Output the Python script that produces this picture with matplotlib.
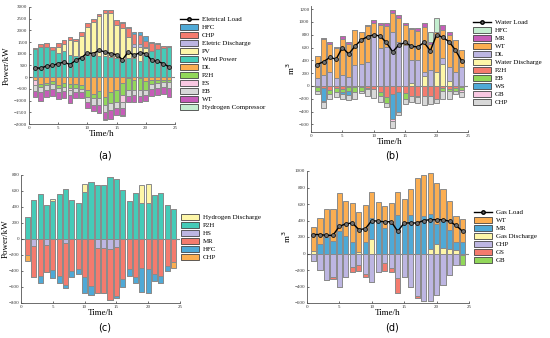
import matplotlib
matplotlib.use("Agg")
import matplotlib.pyplot as plt
from matplotlib.patches import Patch
from matplotlib.lines import Line2D
import numpy as np

hours = list(range(1, 25))

# ---------------- Panel (a) electrical ----------------
a_wind = [1200, 1280, 1300, 1150, 1050, 1100, 950, 900, 900, 950, 950, 900, 900, 850, 800, 750, 800, 800, 700, 950, 1100, 1200, 1250, 1300]
a_pv = [0, 0, 0, 0, 250, 300, 650, 650, 850, 1200, 1400, 1700, 1850, 1900, 1450, 1350, 900, 500, 600, 300, 0, 0, 0, 0]
a_edis = [0, 0, 0, 0, 0, 0, 0, 0, 0, 0, 0, 0, 0, 0, 0, 0, 0, 100, 100, 50, 0, 0, 0, 0]
a_chp = [50, 150, 180, 130, 180, 200, 100, 100, 200, 150, 150, 120, 130, 130, 200, 200, 400, 450, 400, 250, 350, 230, 100, 20]
a_hfc = [0, 0, 0, 0, 0, 0, 0, 0, 0, 0, 0, 0, 0, 0, 0, 50, 50, 100, 150, 200, 50, 20, 0, 0]
a_dl = [-100, -300, -250, -150, -350, -250, -300, -300, -350, -550, -700, -600, -850, -650, -550, -250, -50, -100, -50, -150, -100, -100, -100, -100]
a_p2h = [0, -100, -100, -150, -100, -150, -150, -150, -150, -300, -200, -300, -350, -450, -500, -500, -500, -450, -500, -400, -200, -150, -100, -100]
a_es = [-250, 0, 0, 0, 0, 0, -100, 0, 0, 0, 0, 0, 0, 0, 0, -300, 0, 0, 0, 0, 0, 0, 0, 0]
a_eb = [-250, -250, -200, -200, -200, -200, -200, -200, -150, -200, -300, -300, -300, -300, -250, -250, -250, -200, -250, -200, -200, -200, -200, -250]
a_wt = [-250, -350, -300, -300, -300, -300, -350, -250, -250, -250, -250, -350, -300, -400, -300, -300, -250, -300, -250, -250, -300, -300, -300, -400]
a_hcomp = [0, 0, 0, 0, 0, 0, 0, 0, 0, 0, 0, 0, -50, 0, 0, -50, 0, 0, 0, 0, 0, 0, 0, 0]
a_load = [410, 380, 480, 500, 580, 650, 540, 720, 840, 1040, 1010, 1150, 1080, 1010, 965, 750, 1080, 940, 1050, 1010, 720, 680, 580, 440]

# ---------------- Panel (b) water ----------------
b_wdis = [0, 0, 0, 0, 0, 0, 0, 0, 0, 0, 0, 0, 0, 0, 0, 40, 0, 160, 0, 220, 350, 80, 0, 0]
b_dl = [130, 170, 220, 130, 170, 140, 320, 350, 380, 770, 600, 610, 850, 690, 640, 360, 400, 60, 250, 0, 80, 220, 220, 300]
b_wt = [340, 570, 430, 470, 570, 510, 550, 500, 560, 220, 350, 330, 290, 370, 310, 490, 460, 700, 410, 630, 440, 500, 500, 260]
b_mr = [0, 10, 30, 10, 40, 40, 10, 0, 10, 40, 40, 50, 50, 50, 30, 20, 40, 60, 30, 0, 80, 50, 0, 0]
b_hfc = [0, 0, 0, 0, 0, 0, 0, 0, 0, 0, 0, 0, 0, 0, 0, 0, 0, 0, 160, 210, 0, 0, 0, 0]
b_p2h = [-20, -30, -60, -30, -50, -20, -20, -20, -30, -40, -100, -170, -120, -100, -110, -150, -160, -160, -150, -200, -30, -40, -30, -20]
b_eb = [-60, 0, -70, -70, -50, -60, -80, -60, -20, 0, -50, -100, 0, 0, -90, 0, -20, 0, 0, 0, -50, -40, -50, -50]
b_ws = [0, -200, 0, 0, -30, -60, 0, 0, 0, 0, 0, 0, -390, -300, 0, 0, 0, 0, 0, 0, 0, 0, 0, 0]
b_gb = [0, -20, 0, 0, 0, 0, 0, 0, 0, 0, 0, 0, -40, 0, 0, 0, 0, 0, 0, 0, 0, 0, 0, -30]
b_chp = [-50, -100, -70, -70, -70, -80, -110, -30, -100, -150, -100, -60, -100, -60, -80, -100, -90, -140, -130, -70, -120, -120, -40, -70]
b_load = [335, 380, 445, 420, 600, 500, 620, 720, 770, 800, 780, 680, 535, 640, 680, 620, 610, 680, 550, 800, 760, 690, 560, 390]

# ---------------- Panel (c) hydrogen ----------------
c_p2h = [270, 485, 565, 420, 470, 565, 630, 485, 450, 585, 715, 675, 680, 775, 750, 615, 470, 575, 450, 450, 545, 570, 420, 375]
c_hdis = [0, 0, 0, 0, 35, 0, 0, 0, 0, 100, 0, 0, 0, 0, 0, 0, 0, 0, 225, 235, 5, 0, 0, 0]
c_hs = [0, -90, 0, -70, 0, 0, -50, 0, 0, 0, 0, -115, -115, -125, -95, 0, 0, 0, 0, 0, 0, 0, 0, 0]
c_mr = [-200, -390, -460, -345, -385, -460, -525, -395, -370, -480, -590, -555, -565, -635, -615, -500, -375, -470, -365, -370, -435, -460, -340, -290]
c_hfc = [0, 0, -90, 0, -105, -90, -40, -75, -65, -200, -110, 0, 0, 0, -30, -100, -85, -80, -295, -300, -95, -90, -65, 0]
c_chp = [-70, 0, 0, 0, 0, 0, 0, 0, 0, 0, 0, 0, 0, 0, 0, 0, 0, 0, 0, 0, 0, 0, 0, -75]

# ---------------- Panel (d) gas ----------------
d_gdis = [30, 0, 0, 0, 0, 0, 0, 20, 0, 180, 0, 0, 0, 0, 0, 0, 0, 0, 50, 110, 70, 50, 40, 0]
d_mr = [0, 120, 200, 150, 270, 210, 140, 0, 140, 250, 390, 310, 360, 470, 360, 470, 340, 450, 430, 250, 330, 240, 100, 140]
d_wt = [290, 310, 340, 390, 460, 430, 470, 480, 450, 310, 230, 270, 250, 280, 300, 310, 570, 500, 490, 490, 380, 350, 310, 280]
d_chp = [-90, -200, -320, -280, -400, -280, -160, -140, -250, -340, -230, -110, -180, -300, -280, -400, -520, -570, -570, -500, -380, -260, -140, -20]
d_gs = [0, 0, 0, -30, 0, 0, -70, -70, -40, 0, 0, -100, -40, -180, 0, 0, -20, 0, 0, 0, 0, 0, 0, 0]
d_gb = [0, 0, 0, 0, 0, 0, 0, 0, 0, 0, 0, 0, 0, 0, 0, 0, 0, 0, 0, 0, 0, 0, 0, -120]
d_load = [230, 230, 220, 220, 330, 360, 370, 290, 300, 400, 390, 385, 385, 270, 370, 370, 370, 400, 410, 410, 410, 390, 340, 270]

# colours
C_BLUE = "#4FA9D6"
C_RED = "#F47B6E"
C_LAV = "#BDB6E2"
C_YEL = "#FDF6A8"
C_TURQ = "#45CBB8"
C_ORG = "#FBAE52"
C_GRN = "#92D75A"
C_PINK = "#F9C8E2"
C_GRAY = "#D8D8D8"
C_MAG = "#C65DB8"
C_LGRN = "#C4EED0"

SERIF = "Liberation Serif"
plt.rcParams["font.family"] = SERIF
W, H = 550, 338
fig = plt.figure(figsize=(W / 100, H / 100), dpi=100)


def axes_px(l, r, t, b):
    return fig.add_axes([l / W, 1 - b / H, (r - l) / W, (b - t) / H])


def stack(ax, pos, neg):
    x = np.array(hours)
    base = np.zeros(len(x))
    for vals, col in pos:
        v = np.array(vals, float)
        ax.bar(x, v, 0.8, bottom=base, color=col, edgecolor="#8a8a8a", linewidth=0.7, zorder=2)
        base = base + v
    base = np.zeros(len(x))
    for vals, col in neg:
        v = np.array(vals, float)
        ax.bar(x, v, 0.8, bottom=base, color=col, edgecolor="#8a8a8a", linewidth=0.7, zorder=2)
        base = base + v


def style(ax, ylim, yticks, ylabel, label_x_px=None, left_px=None, width_px=None):
    ax.set_xlim(0, 25)
    ax.set_ylim(*ylim)
    ax.set_xticks([0, 5, 10, 15, 20, 25])
    ax.set_yticks(yticks)
    for s in ["top", "right"]:
        ax.spines[s].set_visible(False)
    for s in ["left", "bottom"]:
        ax.spines[s].set_color("#555555")
        ax.spines[s].set_linewidth(0.6)
    ax.tick_params(labelsize=3.6, length=1.5, width=0.5, colors="#333333", pad=1.2, direction="in")
    ax.set_xlabel("Time/h", fontsize=6.5, labelpad=0)
    ax.set_ylabel(ylabel, fontsize=6.5, labelpad=1)
    if label_x_px is not None:
        ax.yaxis.set_label_coords((label_x_px - left_px) / width_px, 0.5)
    ax.axhline(0, color="#888888", lw=0.8, zorder=1)


def leg(ax, items, x, y):
    handles = []
    labels = []
    for lab, col in items:
        if col is None:
            handles.append(Line2D([], [], color="black", lw=1, marker="o", ms=2.5, mfc="#666666", mec="black"))
        else:
            handles.append(Patch(facecolor=col, edgecolor="#444444", linewidth=0.6))
        labels.append(lab)
    fig.legend(handles, labels, loc="upper left", bbox_to_anchor=(x / W, 1 - y / H), frameon=False,
               fontsize=5, handlelength=2.6, handleheight=0.9, labelspacing=0.25, handletextpad=0.5,
               borderaxespad=0, borderpad=0)


def load_line(ax, vals):
    ax.plot(hours, vals, color="black", lw=1.0, marker="o", ms=2.8, mfc="#707070", mec="black", mew=0.5, zorder=3)


# (a)
axa = axes_px(29, 175, 7, 124)
stack(axa, [(a_wind, C_TURQ), (a_pv, C_YEL), (a_edis, C_LAV), (a_chp, C_RED), (a_hfc, C_BLUE)],
      [(a_dl, C_ORG), (a_p2h, C_GRN), (a_es, C_PINK), (a_eb, C_GRAY), (a_wt, C_MAG), (a_hcomp, C_LGRN)])
load_line(axa, a_load)
style(axa, (-2000, 3000), list(range(-2000, 3001, 500)), "Power/kW", 11, 29, 146)
leg(axa, [("Eletrical Load", None), ("HFC", C_BLUE), ("CHP", C_RED), ("Eletric Discharge", C_LAV),
          ("PV", C_YEL), ("Wind Power", C_TURQ), ("DL", C_ORG), ("P2H", C_GRN), ("ES", C_PINK),
          ("EB", C_GRAY), ("WT", C_MAG), ("Hydrogen Compressor", C_LGRN)], 180, 16)

# (b)
axb = axes_px(311, 468, 6, 132)
stack(axb, [(b_wdis, C_YEL), (b_dl, C_LAV), (b_wt, C_ORG), (b_mr, C_MAG), (b_hfc, C_LGRN)],
      [(b_p2h, C_RED), (b_eb, C_GRN), (b_ws, C_BLUE), (b_gb, C_PINK), (b_chp, C_GRAY)])
load_line(axb, b_load)
style(axb, (-720, 1250), list(range(-600, 1201, 200)), "m$^3$")
leg(axb, [("Water Load", None), ("HFC", C_LGRN), ("MR", C_MAG), ("WT", C_ORG), ("DL", C_LAV),
          ("Water Discharge", C_YEL), ("P2H", C_RED), ("EB", C_GRN), ("WS", C_BLUE), ("GB", C_PINK),
          ("CHP", C_GRAY)], 473, 19)

# (c)
axc = axes_px(21, 180, 175, 303)
stack(axc, [(c_p2h, C_TURQ), (c_hdis, C_YEL)],
      [(c_hs, C_LAV), (c_mr, C_RED), (c_hfc, C_BLUE), (c_chp, C_ORG)])
style(axc, (-800, 800), list(range(-800, 801, 200)), "Power/kW", 9.5, 21, 159)
leg(axc, [("Hydrogen Discharge", C_YEL), ("P2H", C_TURQ), ("HS", C_LAV), ("MR", C_RED),
          ("HFC", C_BLUE), ("CHP", C_ORG)], 181, 214)

# (d)
axd = axes_px(307, 469, 171, 303)
stack(axd, [(d_gdis, C_YEL), (d_mr, C_BLUE), (d_wt, C_ORG)],
      [(d_chp, C_LAV), (d_gs, C_RED), (d_gb, C_GRN)])
load_line(axd, d_load)
style(axd, (-600, 1000), list(range(-600, 1001, 200)), "m$^3$")
leg(axd, [("Gas Load", None), ("WT", C_ORG), ("MR", C_BLUE), ("Gas Discharge", C_YEL), ("CHP", C_LAV),
          ("GS", C_RED), ("GB", C_GRN)], 474, 209)

for lab, x, y in [("(a)", 105, 155), ("(b)", 392, 155), ("(c)", 105, 328), ("(d)", 392, 328)]:
    fig.text(x / W, 1 - y / H, lab, ha="center", va="center", fontsize=7, family="DejaVu Sans")

fig.savefig("out.png", dpi=100)
